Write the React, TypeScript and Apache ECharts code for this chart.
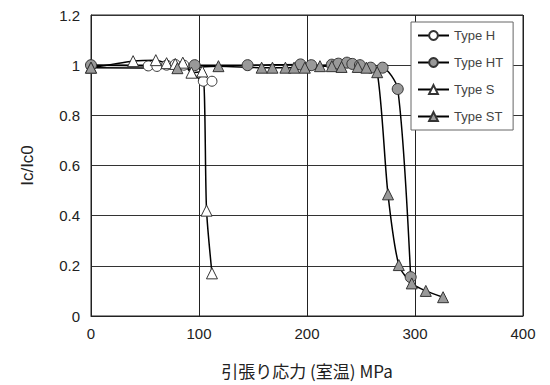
import React, { useEffect, useRef } from "react";
import * as echarts from "echarts";

const xTicks = [0, 100, 200, 300, 400];
const yTicks = [0, 0.2, 0.4, 0.6, 0.8, 1, 1.2];

const typeH: [number, number][] = [
  [0, 1.0], [53, 0.997], [61, 0.995], [70, 1.0], [78, 1.003], [86, 1.0], [104, 0.936], [112, 0.936],
];
const typeHT: [number, number][] = [
  [0, 1.0], [96, 1.0], [145, 1.0], [194, 1.003], [204, 1.0], [223, 1.002], [229, 1.006], [237, 1.01],
  [242, 1.005], [249, 1.0], [259, 0.99], [270, 0.99], [284, 0.905], [296, 0.155],
];
const typeS: [number, number][] = [
  [0, 0.99], [39, 1.016], [60, 1.02], [70, 1.008], [78, 1.005], [85, 1.01], [93, 0.97], [103, 0.975],
  [107, 0.42], [112, 0.17],
];
const typeST: [number, number][] = [
  [0, 0.99], [80, 0.988], [118, 0.996], [158, 0.99], [168, 0.99], [180, 0.99], [188, 0.99], [198, 0.99],
  [212, 0.996], [223, 0.996], [232, 0.993], [247, 0.993], [255, 0.99], [265, 0.972], [275, 0.485],
  [285, 0.203], [297, 0.13], [310, 0.1], [326, 0.075],
];

const names = ["Type H", "Type HT", "Type S", "Type ST"];

export default function App() {
  const ref = useRef<HTMLDivElement>(null);
  useEffect(() => {
    if (!ref.current) return;
    const chart = echarts.init(ref.current, undefined, { renderer: "svg" });
    const mk = (name: string, data: [number, number][], symbol: string, fill: string, size: number) => ({
      name,
      type: "line",
      data,
      smooth: 0.25,
      symbol,
      symbolSize: size,
      lineStyle: { color: "#000", width: 1.5 },
      itemStyle: { color: fill, borderColor: "#333", borderWidth: 1 },
      emphasis: { disabled: true },
    });
    chart.setOption({
      animation: false,
      backgroundColor: "#fff",
      textStyle: { fontFamily: "Liberation Sans, Arial, sans-serif" },
      grid: { left: 91, top: 15, width: 432, height: 301, show: true, borderColor: "#222", borderWidth: 1 },
      legend: {
        data: names,
        orient: "vertical",
        left: 411,
        top: 22,
        padding: [7, 10, 7, 6],
        itemGap: 14,
        itemWidth: 31,
        itemHeight: 11,
        backgroundColor: "#fff",
        borderColor: "#666",
        borderWidth: 1,
        textStyle: { color: "#444", fontSize: 13, fontFamily: "Liberation Sans, Arial, sans-serif" },
      },
      xAxis: {
        type: "value",
        min: 0,
        max: 400,
        interval: 100,
        axisLine: { show: true, lineStyle: { color: "#222" } },
        axisTick: { show: false },
        splitLine: { show: true, lineStyle: { color: "#222", width: 1 } },
        axisLabel: {
          color: "#222",
          fontSize: 15,
          margin: 10,
          formatter: (v: number) => (xTicks.includes(v) ? String(v) : ""),
        },
        name: "引張り応力 (室温) MPa",
        nameLocation: "middle",
        nameGap: 46,
        nameTextStyle: { color: "#222", fontSize: 17, fontFamily: "Noto Sans CJK JP, sans-serif" },
      },
      yAxis: {
        type: "value",
        min: 0,
        max: 1.2,
        interval: 0.2,
        axisLine: { show: true, lineStyle: { color: "#222" } },
        axisTick: { show: false },
        splitLine: { show: true, lineStyle: { color: "#333", width: 1 } },
        axisLabel: {
          color: "#222",
          fontSize: 15,
          margin: 11,
          formatter: (v: number) => {
            const t = yTicks.find((y) => Math.abs(y - v) < 1e-6);
            return t === undefined ? "" : String(t);
          },
        },
        name: "Ic/Ic0",
        nameLocation: "middle",
        nameGap: 55,
        nameRotate: 90,
        nameTextStyle: { color: "#222", fontSize: 17 },
      },
      series: [
        mk(names[0], typeH, "circle", "#fff", 10),
        mk(names[1], typeHT, "circle", "#999", 11),
        mk(names[2], typeS, "triangle", "#fff", 11),
        mk(names[3], typeST, "triangle", "#999", 11),
      ],
    });
    return () => chart.dispose();
  }, []);
  return <div ref={ref} style={{ position: "fixed", left: 0, top: 0, width: 550, height: 385 }} />;
}
